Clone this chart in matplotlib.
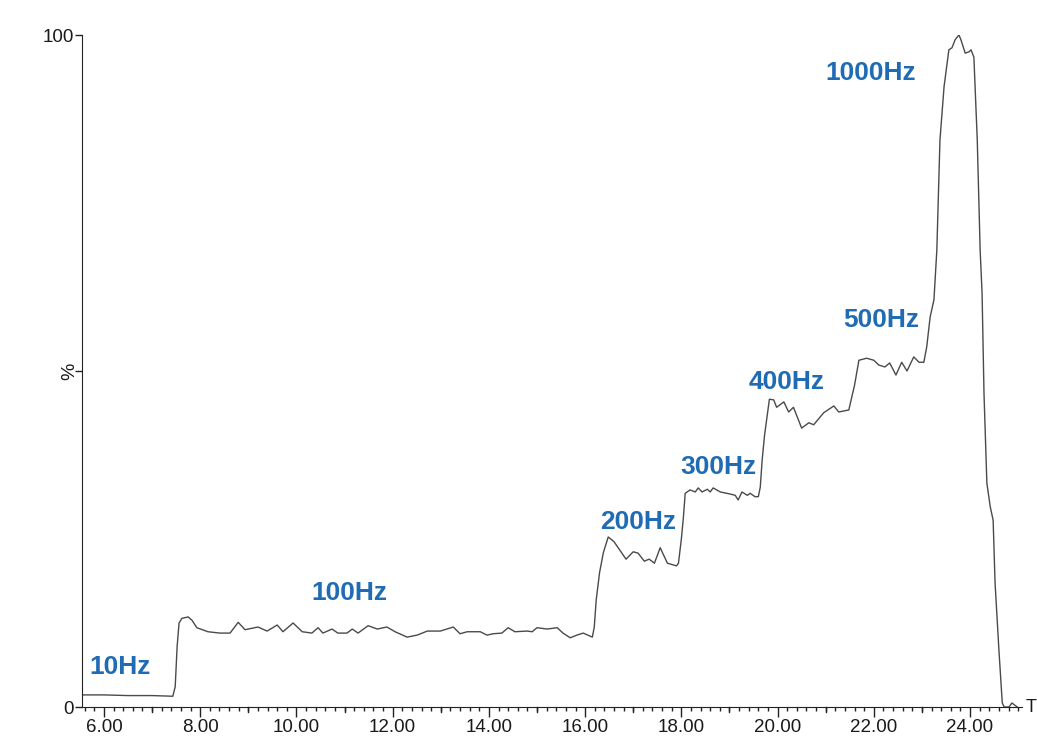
import matplotlib.pyplot as plt
from matplotlib import transforms
import numpy as np

plt.rcParams['font.family'] = ['Liberation Sans', 'DejaVu Sans']

# trace (time, %)
time = [5.55, 6.0, 6.5, 7.0, 7.43, 7.48, 7.52, 7.56, 7.62, 7.75, 7.83, 7.93,
        8.16, 8.41, 8.62, 8.79, 8.93, 9.2, 9.39, 9.6, 9.72, 9.93, 10.12, 10.32,
        10.45, 10.55, 10.74, 10.86, 11.05, 11.16, 11.28, 11.49, 11.68, 11.88,
        12.05, 12.3, 12.51, 12.72, 12.99, 13.26, 13.4, 13.55, 13.82, 13.96,
        14.09, 14.27, 14.4, 14.54, 14.79, 14.9, 15.0, 15.21, 15.42, 15.54,
        15.69, 15.83, 15.96, 16.15, 16.19, 16.23, 16.3, 16.38, 16.48, 16.6,
        16.85, 17.0, 17.1, 17.23, 17.33, 17.44, 17.56, 17.71, 17.9, 17.94,
        18.0, 18.04, 18.08, 18.18, 18.29, 18.35, 18.43, 18.54, 18.6, 18.66,
        18.81, 19.01, 19.12, 19.18, 19.26, 19.37, 19.43, 19.53, 19.6, 19.64,
        19.68, 19.73, 19.83, 19.92, 19.98, 20.13, 20.23, 20.33, 20.5, 20.65,
        20.75, 20.96, 21.17, 21.27, 21.48, 21.6, 21.69, 21.85, 22.0, 22.1,
        22.23, 22.33, 22.46, 22.58, 22.69, 22.83, 22.94, 23.04, 23.1, 23.17,
        23.25, 23.31, 23.375, 23.46, 23.56, 23.625, 23.69, 23.77, 23.81, 23.9,
        23.98, 24.02, 24.08, 24.15, 24.21, 24.25, 24.29, 24.35, 24.42, 24.48,
        24.52, 24.6, 24.67, 24.71, 24.81, 24.87, 24.98]
pct = [1.8, 1.8, 1.7, 1.7, 1.6, 3.0, 9.0, 12.5, 13.2, 13.4, 12.9, 11.8,
       11.2, 11.0, 11.0, 12.6, 11.5, 11.9, 11.3, 12.2, 11.2, 12.5, 11.2, 11.0,
       11.8, 11.0, 11.6, 11.0, 11.0, 11.6, 11.0, 12.1, 11.6, 11.9,
       11.2, 10.4, 10.7, 11.3, 11.3, 11.9, 10.9, 11.2, 11.2, 10.7,
       10.9, 11.0, 11.8, 11.2, 11.3, 11.2, 11.8, 11.6, 11.8, 11.0,
       10.3, 10.7, 11.0, 10.4, 11.9, 15.9, 20.0, 23.0, 25.3, 24.6,
       22.0, 23.1, 22.9, 21.7, 22.0, 21.4, 23.7, 21.4, 21.0, 21.4,
       25.0, 28.0, 31.8, 32.3, 32.0, 32.6, 32.0, 32.4, 32.0, 32.6,
       32.0, 31.7, 31.5, 30.8, 32.0, 31.5, 31.8, 31.3, 31.3, 32.7,
       36.8, 40.5, 45.8, 45.7, 44.6, 45.4, 43.9, 44.6, 41.5, 42.3,
       42.0, 43.8, 44.8, 43.9, 44.2, 47.9, 51.6, 51.9, 51.6, 50.9,
       50.6, 51.2, 49.4, 51.3, 50.0, 52.1, 51.3, 51.3, 53.6, 58.0,
       60.6, 68.0, 84.4, 92.3, 97.8, 98.1, 99.3, 100.0, 99.3, 97.3,
       97.5, 97.8, 96.7, 84.4, 68.0, 61.6, 46.7, 33.3, 29.8, 27.8,
       18.5, 8.5, 0.6, 0.0, 0.0, 0.6, 0.0]

labels = ['10Hz', '100Hz', '200Hz', '300Hz', '400Hz', '500Hz', '1000Hz']
label_x = [6.33, 11.09, 17.1, 18.77, 20.18, 22.15, 21.93]
label_y = [6.0, 17.0, 27.5, 35.7, 48.4, 57.6, 94.3]

fig = plt.figure(figsize=(10.37, 7.41), dpi=100)
ax = fig.add_axes([82 / 1037, 34 / 741, 940 / 1037, 672 / 741])

ax.plot(time, pct, color='#4a4a4a', lw=1.0)

for txt, x, y in zip(labels, label_x, label_y):
    ax.text(x, y, txt, color='#1f6cb4', fontsize=19, fontweight='bold',
            ha='center', va='center')

ax.set_xlim(5.543, 25.08)
ax.set_ylim(0, 100)

for s in ['top', 'right']:
    ax.spines[s].set_visible(False)
ax.spines['left'].set_color('#222222')
ax.spines['bottom'].set_color('#222222')

ax.set_xticks(np.arange(6, 25, 2))
ax.set_xticklabels(['%.2f' % v for v in np.arange(6, 25, 2)])
ax.set_xticks(np.arange(5.6, 25.1, 0.2), minor=True)
ax.tick_params(axis='x', which='major', length=7, width=1, color='#222222',
               labelsize=13.5, labelcolor='#1a1a1a', pad=2)
ax.tick_params(axis='x', which='minor', length=3, width=1, color='#222222')

# medium ticks at odd minutes
trans = transforms.blended_transform_factory(ax.transData, ax.transAxes)
for v in np.arange(7, 25, 2):
    ax.plot([v, v], [0, -5 / 672], color='#222222', lw=1, transform=trans,
            clip_on=False)

ax.set_yticks([0, 50, 100])
ax.set_yticklabels(['0', '', '100'])
ax.tick_params(axis='y', length=5, width=1, color='#222222', labelsize=13.5,
               labelcolor='#1a1a1a', pad=1)
ax.text(-0.013, 0.5, '%', transform=ax.transAxes, rotation=90, fontsize=14,
        color='#1a1a1a', ha='center', va='center')

ax.text(1.004, 0, 'T', transform=ax.transAxes, fontsize=13, color='#1a1a1a',
        ha='left', va='center')

fig.savefig('out.png', dpi=100)
